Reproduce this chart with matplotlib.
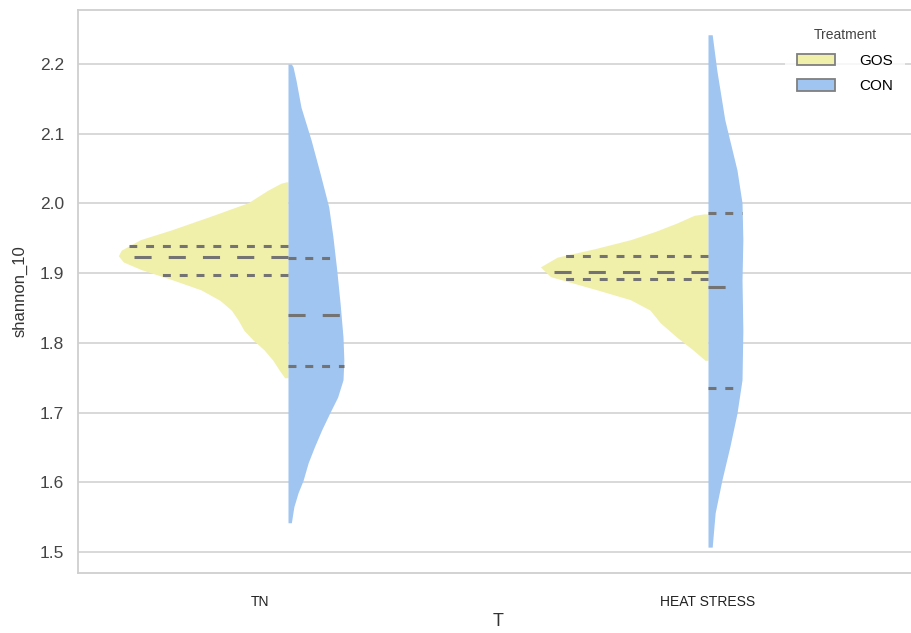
import numpy as np
import matplotlib
matplotlib.use("Agg")
import matplotlib.pyplot as plt
from matplotlib.patches import Patch
from matplotlib.transforms import ScaledTranslation

plt.rcParams['font.family'] = ['Liberation Sans', 'DejaVu Sans']

# Categories and groups
categories = ["TN", "HEAT STRESS"]
treatments = ["GOS", "CON"]
colors = {"GOS": "#f1f0aa", "CON": "#a0c5f0"}

# Density profiles (shannon value, half-width in category units)
tn_gos_y = [2.031, 2.029, 2.019, 2.001, 1.983, 1.962, 1.948, 1.933, 1.925, 1.916, 1.905,
            1.890, 1.876, 1.861, 1.847, 1.833, 1.818, 1.804, 1.790, 1.775, 1.761, 1.750]
tn_gos_w = [0.004, 0.017, 0.048, 0.095, 0.178, 0.278, 0.352, 0.397, 0.404, 0.392, 0.349,
            0.273, 0.207, 0.162, 0.135, 0.119, 0.105, 0.083, 0.057, 0.036, 0.021, 0.008]

tn_con_y = [2.200, 2.196, 2.177, 2.138, 2.091, 2.044, 1.995, 1.952, 1.905, 1.857, 1.808,
            1.775, 1.747, 1.722, 1.699, 1.675, 1.651, 1.628, 1.603, 1.585, 1.565, 1.542]
tn_con_w = [0.008, 0.012, 0.019, 0.031, 0.055, 0.076, 0.097, 0.107, 0.116, 0.124, 0.131,
            0.133, 0.131, 0.118, 0.099, 0.080, 0.063, 0.048, 0.036, 0.024, 0.014, 0.008]

hs_gos_y = [1.985, 1.983, 1.972, 1.960, 1.948, 1.935, 1.923, 1.909, 1.895, 1.876, 1.862,
            1.847, 1.829, 1.808, 1.790, 1.775]
hs_gos_w = [0.010, 0.033, 0.074, 0.125, 0.185, 0.270, 0.359, 0.399, 0.375, 0.264, 0.185,
            0.138, 0.114, 0.074, 0.036, 0.007]

hs_con_y = [2.242, 2.191, 2.120, 2.048, 2.001, 1.948, 1.890, 1.818, 1.747, 1.699,
            1.651, 1.603, 1.556, 1.507]
hs_con_w = [0.010, 0.021, 0.040, 0.069, 0.081, 0.083, 0.081, 0.083, 0.081, 0.069,
            0.052, 0.033, 0.017, 0.010]

# Quartiles (q1, median, q3)
tn_gos_q = [1.897, 1.923, 1.939]
tn_con_q = [1.767, 1.840, 1.922]
hs_gos_q = [1.892, 1.901, 1.925]
hs_con_q = [1.735, 1.880, 1.986]

violins = [
    (0, "GOS", tn_gos_y, tn_gos_w, tn_gos_q),
    (0, "CON", tn_con_y, tn_con_w, tn_con_q),
    (1, "GOS", hs_gos_y, hs_gos_w, hs_gos_q),
    (1, "CON", hs_con_y, hs_con_w, hs_con_q),
]

yticks = [1.5, 1.6, 1.7, 1.8, 1.9, 2.0, 2.1, 2.2]

fig = plt.figure(figsize=(9.11, 6.33), dpi=100)
ax = fig.add_axes([78 / 911, 1 - 573 / 633, 840 / 911, 563 / 633])

qcolor = "#737373"
lw = 2.2
for pos, trt, ys, ws, qs in violins:
    ys = np.asarray(ys)
    ws = np.asarray(ws)
    side = -1 if trt == "GOS" else 1
    ax.fill_betweenx(ys, pos, pos + side * ws, color=colors[trt], lw=0, zorder=2)
    order = np.argsort(ys)
    for i, q in enumerate(qs):
        half = np.interp(q, ys[order], ws[order])
        dash = (0, (5.6, 5.6)) if i == 1 else (0, (2.6, 2.9))
        ax.plot([pos, pos + side * half], [q, q], color=qcolor, lw=lw,
                linestyle=dash, solid_capstyle="butt", dash_capstyle="butt", zorder=3)

ax.set_xlim(-0.5, 1.5)
ax.set_ylim(1.4699, 2.2775)
ax.set_yticks(yticks)
ax.set_yticklabels([f"{v:.1f}" for v in yticks])
ax.set_xticks([0, 1])
ax.set_xticklabels(categories)

ax.grid(axis="y", color="#d6d6d6", lw=1.3, zorder=0)
ax.grid(axis="x", visible=False)
ax.set_axisbelow(True)
for s in ax.spines.values():
    s.set_color("#cfcfcf")
    s.set_linewidth(1.3)

ax.tick_params(axis="y", length=0, pad=10, labelsize=12.5, labelcolor="#444444")
ax.tick_params(axis="x", length=0, pad=16, labelsize=10, labelcolor="#222222")
# nudge the first category label
lab0 = ax.get_xticklabels()[0]
lab0.set_transform(lab0.get_transform() + ScaledTranslation(-28 / 100, 0, fig.dpi_scale_trans))

ax.set_xlabel("T", fontsize=13, color="#333333", labelpad=3)
ax.set_ylabel("shannon_10", fontsize=12, color="#333333", labelpad=9)

handles = [Patch(facecolor=colors[t], edgecolor="#7f7f7f", lw=1.3, label=t) for t in treatments]
leg = ax.legend(handles=handles, title="Treatment", loc="upper left",
                bbox_to_anchor=(785 / 911, 1 - 16 / 633), bbox_transform=fig.transFigure,
                frameon=True, fontsize=11, title_fontsize=10, handlelength=2.5,
                handleheight=0.8, handletextpad=1.55, labelspacing=0.75, borderpad=0.8,
                borderaxespad=0)
leg._legend_box.align = "center"
leg.get_frame().set_facecolor("white")
leg.get_frame().set_edgecolor("none")
leg.get_title().set_color("#444444")

fig.savefig("out.png", dpi=100)
